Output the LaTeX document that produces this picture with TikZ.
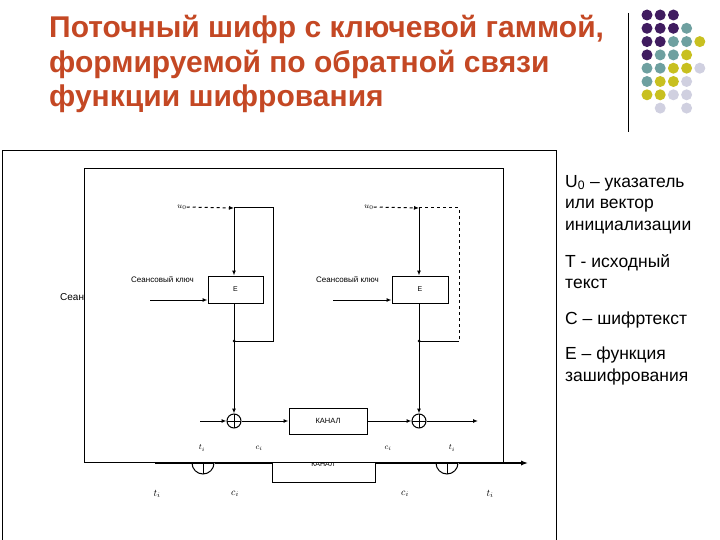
\documentclass[tikz,border=0pt]{standalone}
\usepackage{fontspec}
\setmainfont{Liberation Sans}
\usetikzlibrary{arrows.meta}
\definecolor{ttl}{RGB}{196,72,36}
\definecolor{dP}{RGB}{64,28,96}
\definecolor{dT}{RGB}{110,160,160}
\definecolor{dY}{RGB}{200,192,32}
\definecolor{dL}{RGB}{208,208,224}
\tikzset{
  ln/.style={line width=1pt},
  ar/.style={line width=1pt,-{Latex[length=5pt,width=4pt]}},
  blk/.style={draw,line width=1pt,fill=white,inner sep=0pt},
  sm/.style={font=\fontsize{8}{9}\selectfont,inner sep=0pt},
  xo/.style={draw,circle,line width=1pt,minimum size=14pt,inner sep=0pt,
    path picture={\draw[line width=0.8pt] (path picture bounding box.north)--(path picture bounding box.south) (path picture bounding box.west)--(path picture bounding box.east);}},
  rt/.style={anchor=north west,align=left,font=\fontsize{17.5}{21.5}\selectfont,inner sep=0pt},
  dot/.style={circle,inner sep=0pt,minimum size=11pt}
}
\begin{document}
\begin{tikzpicture}[x=1pt,y=-1pt]
\useasboundingbox (0,0) rectangle (720,540);
\node[anchor=north west,align=left,text=ttl,font=\bfseries\fontsize{30}{34.5}\selectfont,inner sep=0pt] (title) at (49,15)
 {Поточный шифр с ключевой гаммой,\\формируемой по обратной связи\\функции шифрования};
\coordinate (vt) at (628,13); \coordinate (vb) at (628,132);
\draw[line width=1pt] (vt)--(vb);
% dots
\foreach \c/\r/\col in {0/0/dP,1/0/dP,2/0/dP,
 0/1/dP,1/1/dP,2/1/dP,3/1/dT,
 0/2/dP,1/2/dP,2/2/dT,3/2/dT,4/2/dY,
 0/3/dP,1/3/dT,2/3/dT,3/3/dY,
 0/4/dT,1/4/dT,2/4/dY,3/4/dY,4/4/dL,
 0/5/dT,1/5/dY,2/5/dY,3/5/dL,
 0/6/dY,1/6/dY,2/6/dL,3/6/dL,
 1/7/dL,3/7/dL}
 \node[dot,fill=\col] (d\c\r) at (647+13.2*\c,15+13.3*\r) {};
% outer frame
\coordinate (o1) at (2,151); \coordinate (o2) at (556,545);
\draw[line width=1pt] (o1) rectangle (o2);
% background (partially hidden) diagram
\node[anchor=west,font=\fontsize{10}{12}\selectfont,inner sep=0pt] (sean) at (60,297) {Сеан};
\node[blk,minimum width=103pt,minimum height=26pt] (kan2) at (323.5,469) {};
\node[font=\fontsize{7}{8}\selectfont,inner sep=0pt] (kant2) at (323,464) {КАНАЛ};
\node[xo,minimum size=22pt] (x3) at (203,463) {};
\node[xo,minimum size=22pt] (x4) at (447,463) {};
\coordinate (lin) at (155,463); \coordinate (lout) at (528,463);
\draw[line width=1.8pt] (lin)--(x3) (x3)--(kan2.west|-x3) (kan2.east|-x4)--(x4);
\draw[line width=1.8pt,-{Latex[length=7pt]}] (x4)--(lout);
\foreach \n/\x/\t in {a/157/t,b/235/c,c/405/c,d/490/t}
 \node[font=\fontsize{10}{10}\selectfont,inner sep=0pt] (bl\n) at (\x,494) {$\t_i$};
% inner white picture
\node[draw,line width=0.8pt,fill=white,minimum width=419pt,minimum height=294pt,inner sep=0pt,anchor=north west] (pic) at (84,168) {};
% left encryptor
\node[blk,minimum width=55pt,minimum height=27pt] (E1) at (235.5,289.5) {\fontsize{7}{8}\selectfont E};
\node[sm] (u1) at (182,207) {$u_0$};
\coordinate (a1) at (234,208); \coordinate (r1) at (273,208);
\coordinate (r1b) at (273,341); \coordinate (j1) at (234,341);
\draw[ar,dashed] (u1.east)--(a1);
\draw[ln] (a1)--(r1)--(r1b)--(j1);
\draw[ar] (a1)--(E1.north-|a1);
\node[sm,anchor=south west] (k1) at (131,283) {Сеансовый ключ};
\coordinate (ks1) at (150,300);
\draw[ar] (ks1)--(ks1-|E1.west);
\draw[ln] (E1.south-|j1)--(j1);
\fill (j1) circle (1.5pt);
\node[xo] (x1) at (234,421) {};
\draw[ar] (j1)--(x1);
\node[blk,minimum width=78pt,minimum height=26pt] (kan) at (328,421) {\fontsize{7.5}{8}\selectfont КАНАЛ};
\coordinate (in1) at (200,421);
\draw[ar] (in1)--(x1);
\draw[ar] (x1)--(kan);
% right decryptor
\node[blk,minimum width=56pt,minimum height=27pt] (E2) at (420,289.5) {\fontsize{7}{8}\selectfont E};
\node[sm] (u2) at (369,207) {$u_0$};
\coordinate (a2) at (419,208); \coordinate (r2) at (459,208);
\coordinate (r2b) at (459,341); \coordinate (j2) at (419,341);
\draw[ar,dashed] (u2.east)--(a2);
\draw[ln,dashed] (a2)--(r2)--(r2b);
\draw[ln] (r2b)--(j2);
\draw[ar] (a2)--(E2.north-|a2);
\node[sm,anchor=south west] (k2) at (316,283) {Сеансовый ключ};
\coordinate (ks2) at (333,300);
\draw[ar] (ks2)--(ks2-|E2.west);
\draw[ln] (E2.south-|j2)--(j2);
\fill (j2) circle (1.5pt);
\node[xo] (x2) at (419,421) {};
\draw[ar] (j2)--(x2);
\draw[ar] (kan)--(x2);
\coordinate (out2) at (478,421);
\draw[ar] (x2)--(out2);
\foreach \n/\x/\t in {a/202/t,b/259/c,c/388/c,d/452/t}
 \node[sm] (il\n) at (\x,448) {$\t_i$};
% right-side legend
\node[rt] (L1) at (565,175) {U\textsubscript{0} – указатель\\или вектор\\инициализации};
\node[rt] (L2) at (565,254) {Т - исходный\\текст};
\node[rt] (L3) at (565,312) {С – шифртекст};
\node[rt] (L4) at (565,347) {Е – функция\\зашифрования};
\end{tikzpicture}
\end{document}
